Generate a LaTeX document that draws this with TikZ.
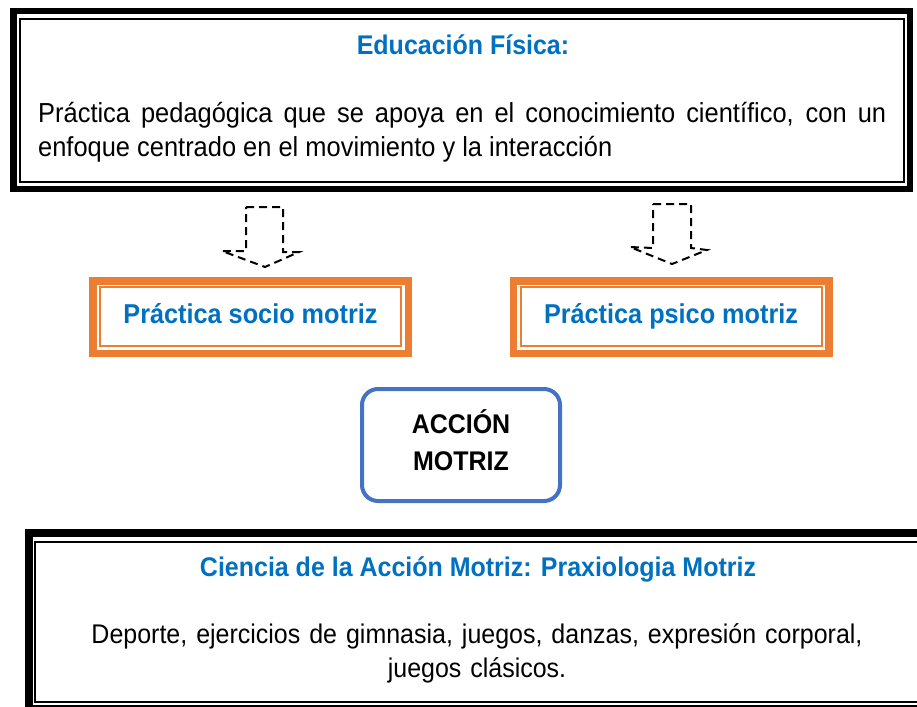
\documentclass[tikz,border=0pt]{standalone}
\usepackage{fontspec}
\setmainfont[FakeStretch=0.925]{Liberation Sans}
\definecolor{titleblue}{HTML}{0070C0}
\definecolor{boxorange}{HTML}{ED7D31}
\definecolor{boxblue}{HTML}{4472C4}
\hyphenpenalty=10000
\tolerance=9999

\begin{document}
\begin{tikzpicture}[x=1pt,y=-1pt,line join=miter,
  bigframe/.style={draw=black,inner sep=0pt},
  thinframe/.style={draw=black,line width=1.5pt},
  orangeframe/.style={draw=boxorange,line width=7.5pt,minimum width=315.5pt,minimum height=72.5pt,inner sep=0pt,text height=19pt,text depth=7pt,text=titleblue,font=\fontsize{27.3}{32}\selectfont\bfseries},
  orangethin/.style={draw=boxorange,line width=2pt},
  titletxt/.style={text=titleblue,font=\fontsize{27}{32}\selectfont\bfseries,inner sep=0pt},
  bodytxt/.style={font=\fontsize{27.5}{34.5}\selectfont,inner sep=0pt},
  hollowarrow/.style={draw=black,line width=2pt,dash pattern=on 8pt off 5pt}]
\useasboundingbox (0,0) rectangle (917,706);
\clip (0,0) rectangle (917,706);
\node[bigframe,line width=6.5pt,minimum width=896.5pt,minimum height=177.5pt] (fisica) at (461.5,100) {};
\draw[thinframe] ([xshift=10pt,yshift=-11pt]fisica.north west) rectangle ([xshift=-9pt,yshift=10pt]fisica.south east);
\node[titletxt,anchor=base] (fisicatit) at (463,55) {Educación Física:};
\node[bodytxt,text width=848pt,align=justify,anchor=base west] (fisicatxt) at (38,122) {Práctica pedagógica que se apoya en el conocimiento científico, con un enfoque centrado en el movimiento y la interacción};
\draw[hollowarrow] (246,207) -- (283,207) -- (283,252) -- (299,252) -- (265,267) -- (222,251) -- (246,251) -- cycle;
\draw[hollowarrow] (653,204) -- (691,204) -- (691,248) -- (707,250) -- (672,264) -- (630,247) -- (653,248) -- cycle;
\node[orangeframe] (socio) at (250.5,317) {Práctica socio motriz};
\draw[orangethin] ([xshift=11pt,yshift=-10pt]socio.north west) rectangle ([xshift=-11pt,yshift=11pt]socio.south east);
\node[orangeframe] (psico) at (671,317) {Práctica psico motriz};
\draw[orangethin] ([xshift=11pt,yshift=-10pt]psico.north west) rectangle ([xshift=-11pt,yshift=11pt]psico.south east);
\node[draw=boxblue,line width=4pt,rounded corners=16pt,minimum width=198pt,minimum height=112pt] (accion) at (461,445) {};
\node[bodytxt,font=\fontsize{27}{32}\selectfont\bfseries,anchor=base] (accion1) at (461,433) {ACCIÓN};
\node[bodytxt,font=\fontsize{27}{32}\selectfont\bfseries,anchor=base] (accion2) at (461,470) {MOTRIZ};
\node[bigframe,line width=7.5pt,minimum width=896.5pt,minimum height=175.5pt] (ciencia) at (477,620.5) {};
\draw[thinframe] ([xshift=10pt,yshift=-13pt]ciencia.north west) rectangle ([xshift=-10pt,yshift=10pt]ciencia.south east);
\node[titletxt,anchor=base] (cienciatit) at (478,576) {Ciencia de la Acción Motriz: Praxiologia Motriz};
\node[bodytxt,font=\fontsize{27}{34}\selectfont,text width=848pt,align=center,anchor=base] (cienciatxt) at (477,643) {Deporte, ejercicios de gimnasia, juegos, danzas, expresión corporal,\\ juegos clásicos.};
\end{tikzpicture}
\end{document}
